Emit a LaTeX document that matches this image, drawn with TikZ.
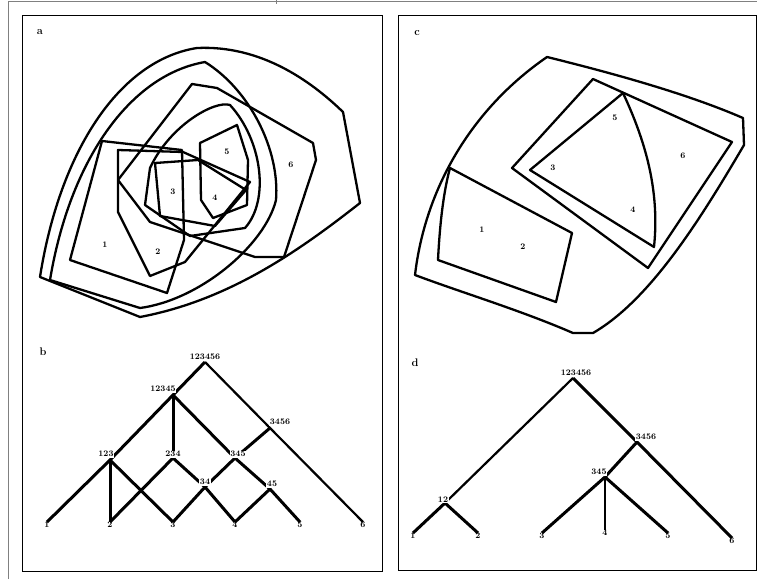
\documentclass[tikz,border=0pt]{standalone}
\begin{document}
\begin{tikzpicture}[x=1pt,y=-1pt,
  frame/.style={line width=0.9pt},
  outline/.style={line width=2.3pt,line join=round},
  edgeb/.style={line width=3pt},
  edgem/.style={line width=2.2pt},
  edget/.style={line width=1.2pt},
  lab/.style={font=\fontsize{8.5}{8.5}\selectfont\bfseries,inner sep=0.3pt},
  tlab/.style={lab,fill=white,inner sep=0.8pt},
  plab/.style={font=\fontsize{11}{11}\selectfont\bfseries,inner sep=0pt}]
\useasboundingbox (0,0) rectangle (757,579);
% scan frame
\draw[gray,line width=0.8pt] (8,579) -- (8,1) -- (757,1);
\draw[gray,line width=0.6pt] (276,0) -- (276,4);
% panel boxes
\draw[frame] (22.5,15) rectangle (382,571);
\draw[frame] (398,15) rectangle (756,570);
% panel letters
\node[plab] (la) at (40,32) {a};
\node[plab] (lb) at (43,352) {b};
\node[plab] (lc) at (417,33) {c};
\node[plab] (ld) at (415,363) {d};

% ---------- panel a ----------
% outer set 123456
\draw[outline] (40,277) .. controls (60,150) and (120,60) .. (197,48)
  .. controls (260,45) and (310,80) .. (343,112) -- (360,203)
  .. controls (300,250) and (230,300) .. (140,317) -- cycle;
% set 12345
\draw[outline] (50,280) .. controls (70,160) and (130,75) .. (205,62)
  .. controls (250,90) and (280,150) .. (276,200)
  .. controls (265,245) and (200,300) .. (140,308) -- cycle;
% set 3456
\draw[outline] (192,84) -- (217,88) -- (313,143) -- (316,160) -- (284,257) -- (255,257)
  -- (150,222) -- (118,180) -- cycle;
% set 123
\draw[outline] (102,141) -- (182,150) -- (184,240) -- (167,293) -- (70,260) -- cycle;
% set 234
\draw[outline] (118,150) -- (183,152) -- (250,182) -- (185,262) -- (150,276) -- (118,212) -- cycle;
% set 345
\draw[outline] (150,168) .. controls (170,125) and (215,100) .. (230,105)
  .. controls (262,140) and (270,200) .. (245,228) -- (190,236) -- (145,205) -- cycle;
% set 34
\draw[outline] (155,163) -- (198,160) -- (246,190) -- (215,226) -- (160,216) -- cycle;
% set 45
\draw[outline] (200,143) -- (237,125) -- (248,160) -- (247,205) -- (213,218) -- (201,200) -- cycle;
% elements
\node[lab] (a1) at (105,245) {1};
\node[lab] (a2) at (158,252) {2};
\node[lab] (a3) at (173,192) {3};
\node[lab] (a4) at (215,198) {4};
\node[lab] (a5) at (227,152) {5};
\node[lab] (a6) at (291,165) {6};

% ---------- panel c ----------
\draw[outline] (415,275) .. controls (425,190) and (470,110) .. (547,57)
  .. controls (620,75) and (690,95) .. (743,118) -- (744,145)
  .. controls (700,220) and (650,300) .. (593,333) -- (573,333)
  .. controls (520,310) and (460,292) .. (415,275) -- cycle;
\draw[outline] (450,168) -- (572,233) -- (556,302) -- (438,260)
  .. controls (440,220) and (444,190) .. (450,168) -- cycle;
\draw[outline] (593,79) -- (732,142) -- (648,268) -- (512,168) -- cycle;
\draw[outline] (623,93) .. controls (645,140) and (660,190) .. (654,247)
  -- (530,170) -- cycle;
\node[lab] (c1) at (482,230) {1};
\node[lab] (c2) at (523,247) {2};
\node[lab] (c3) at (553,168) {3};
\node[lab] (c4) at (633,210) {4};
\node[lab] (c5) at (615,118) {5};
\node[lab] (c6) at (683,156) {6};

% ---------- panel b ----------
\coordinate (bR) at (205,362);
\coordinate (bB) at (173,395);
\coordinate (bA) at (270,428);
\coordinate (bC) at (110,460);
\coordinate (bD) at (173,458);
\coordinate (bE) at (235,458);
\coordinate (bF) at (205,487);
\coordinate (bG) at (270,489);
\coordinate (b1) at (47,522);
\coordinate (b2) at (110,522);
\coordinate (b3) at (173,522);
\coordinate (b4) at (235,522);
\coordinate (b5) at (300,522);
\coordinate (b6) at (363,522);
\draw[edgem] (bR) -- (bA) -- (b6);
\draw[edgeb] (bR) -- (bB) -- (bC) -- (b1);
\draw[edgeb] (bB) -- (bD);
\draw[edgeb] (bB) -- (bE) -- (bG) -- (b5);
\draw[edgeb] (bA) -- (bE) -- (bF) -- (b3);
\draw[edgeb] (bC) -- (b2);
\draw[edgeb] (bC) -- (b3);
\draw[edgeb] (bD) -- (b2);
\draw[edgeb] (bD) -- (bF) -- (b4);
\draw[edgeb] (bG) -- (b4);
\node[tlab,anchor=south] (tR) at (205,361) {123456};
\node[tlab,anchor=south] (tB) at (163,393) {12345};
\node[tlab,anchor=south] (tA) at (280,426) {3456};
\node[tlab,anchor=south] (tC) at (106,458) {123};
\node[tlab,anchor=south] (tD) at (173,458) {234};
\node[tlab,anchor=south] (tE) at (238,458) {345};
\node[tlab,anchor=south] (tF) at (205,486) {34};
\node[tlab,anchor=south] (tG) at (272,488) {45};
\foreach \i/\x in {1/47,2/110,3/173,4/235,5/300,6/363}
  \node[lab,anchor=north] (tb\i) at (\x,521) {\i};

% ---------- panel d ----------
\coordinate (dR) at (573,378);
\coordinate (dA) at (637,442);
\coordinate (dE) at (605,477);
\coordinate (dL) at (445,503);
\coordinate (d1) at (413,533);
\coordinate (d2) at (478,533);
\coordinate (d3) at (542,533);
\coordinate (d4) at (605,530);
\coordinate (d5) at (668,533);
\coordinate (d6) at (732,538);
\draw[edgem] (dR) -- (dL);
\draw[edgeb] (dR) -- (dA) -- (d6);
\draw[edgeb] (dA) -- (dE);
\draw[edgeb] (dL) -- (d1);
\draw[edgeb] (dL) -- (d2);
\draw[edgeb] (dE) -- (d3);
\draw[edget] (dE) -- (d4);
\draw[edgeb] (dE) -- (d5);
\node[tlab,anchor=south] (uR) at (576,377) {123456};
\node[tlab,anchor=south] (uA) at (646,441) {3456};
\node[tlab,anchor=south] (uE) at (599,476) {345};
\node[tlab,anchor=south] (uL) at (443,503) {12};
\foreach \i/\x/\y in {1/413/532,2/478/532,3/542/532,4/605/529,5/668/532,6/732/537}
  \node[lab,anchor=north] (td\i) at (\x,\y) {\i};
\end{tikzpicture}
\end{document}
